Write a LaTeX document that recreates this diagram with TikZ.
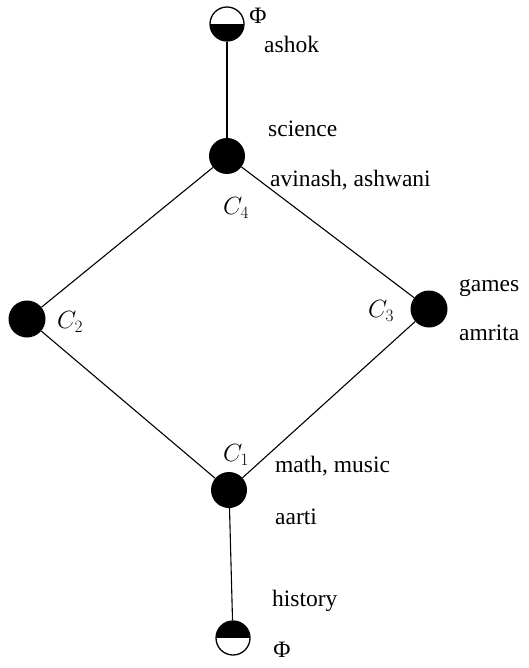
\documentclass[tikz,border=0pt]{standalone}
\usepackage{fontspec}
\setmainfont{Liberation Serif}
\begin{document}
\begin{tikzpicture}[x=1pt,y=-1pt,
  conc/.style={circle,fill=black,inner sep=0pt,minimum size=#1},
  conc/.default=36pt,
  halfbot/.style={circle,draw,line width=1.3pt,inner sep=0pt,minimum size=34pt,
    path picture={\fill (path picture bounding box.west) rectangle (path picture bounding box.south east);}},
  halftop/.style={circle,draw,line width=1.3pt,inner sep=0pt,minimum size=34pt,
    path picture={\fill (path picture bounding box.north west) rectangle (path picture bounding box.east);}},
  lab/.style={inner sep=0pt,font=\fontsize{23.5}{26}\selectfont},
  clab/.style={inner sep=0pt,font=\fontsize{24}{27}\selectfont},
  edge/.style={line width=1.1pt}]
\useasboundingbox (0,0) rectangle (528,668);
\node[halfbot] (top) at (227,24) {};
\node[conc=36pt] (c4) at (227,156) {};
\node[conc=37pt] (c2) at (27,319) {};
\node[conc=37pt] (c3) at (429,309) {};
\node[conc=36pt] (c1) at (229,490) {};
\node[halftop] (bot) at (233,638) {};
\draw[edge] (top) -- (c4);
\draw[edge] (c4) -- (c2);
\draw[edge] (c4) -- (c3);
\draw[edge] (c2) -- (c1);
\draw[edge] (c3) -- (c1);
\draw[edge] (c1) -- (bot);
\node[lab] (phitop) at (258,16) {Φ};
\node[lab,anchor=west] (ashok) at (264,44) {ashok};
\node[lab,anchor=west] (science) at (268,129) {science};
\node[lab,anchor=west] (avash) at (270,180) {avinash, ashwani};
\node[clab] (l4) at (236,208) {$C_4$};
\node[clab] (l2) at (70,322) {$C_2$};
\node[clab] (l3) at (381,311) {$C_3$};
\node[lab,anchor=west] (games) at (459,288) {games};
\node[lab,anchor=west] (amrita) at (459,333) {amrita};
\node[clab] (l1) at (236,455) {$C_1$};
\node[lab,anchor=west] (mm) at (275,466) {math, music};
\node[lab,anchor=west] (aarti) at (275,517) {aarti};
\node[lab,anchor=west] (hist) at (272,601) {history};
\node[lab] (phibot) at (282,650) {Φ};
\end{tikzpicture}
\end{document}
